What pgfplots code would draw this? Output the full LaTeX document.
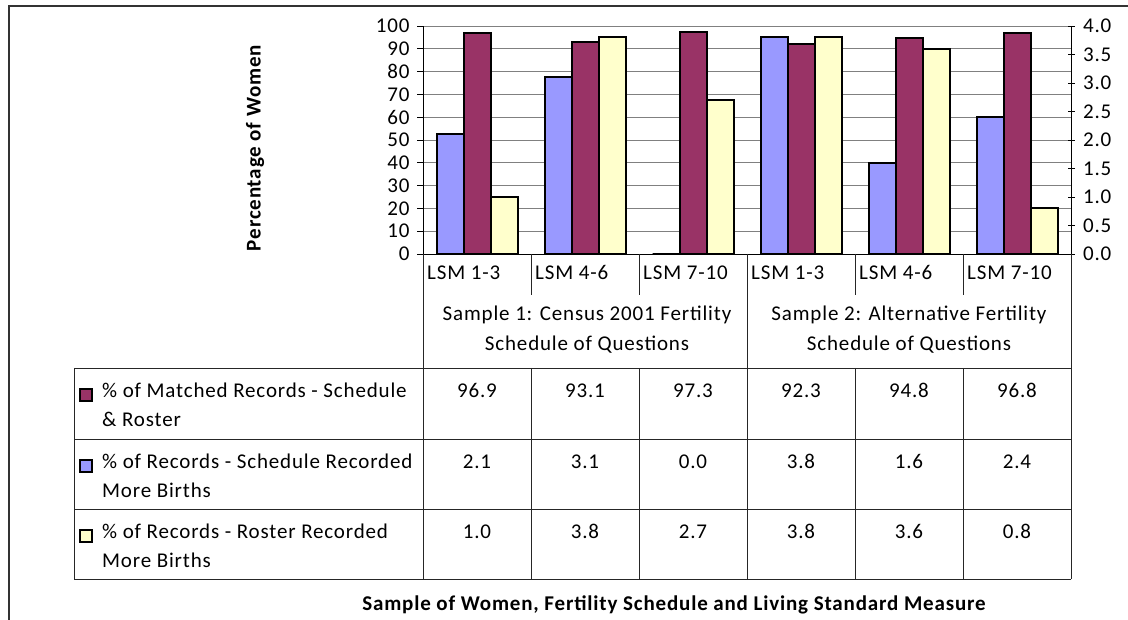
\documentclass[border=0pt]{standalone}
\usepackage{fontspec}
\setmainfont{Carlito}[LetterSpace=4]
\usepackage{pgfplots}
\usepackage{pgfplotstable}
\pgfplotsset{compat=1.18}

\definecolor{matched}{HTML}{993366}
\definecolor{sched}{HTML}{9999FF}
\definecolor{roster}{HTML}{FFFFCC}
\newcommand\fs{\fontsize{21}{25}\selectfont}

% x = category (LSM groups of both samples), values in percent
\pgfplotstableread{
x matched schedule roster
0 96.9 2.1 1.0
1 93.1 3.1 3.8
2 97.3 0.0 2.7
3 92.3 3.8 3.8
4 94.8 1.6 3.6
5 96.8 2.4 0.8
}\data

\pgfplotsset{
  common/.style={
    at={(423pt,366pt)}, anchor=south west,
    scale only axis, width=648pt, height=228pt,
    xmin=-0.5, xmax=5.5, xtick=\empty,
    axis line style={-, black, line width=0.9pt},
    tick style={black, line width=0.9pt},
    tick label style={font=\fs},
    /pgf/number format/assume math mode=true,
    ybar, bar width=27pt, clip=false,
  },
  outlined/.style={draw=black, line width=2pt},
}

\begin{document}
\begin{tikzpicture}[x=1pt, y=1pt, font=\fs]
\useasboundingbox (0,0) rectangle (1128,620);
% chart border, cut off on the right and at the bottom
\draw[black!80, line width=1.3pt] (9,-20) -- (9,614) -- (1140,614);

% primary axis: matched records
\begin{axis}[common,
  ymin=0, ymax=100, ytick={0,10,...,100},
  axis y line*=left, axis x line*=bottom,
  ymajorgrids, grid style={black!50, line width=0.8pt},
  tick align=outside, major tick length=6pt,
  yticklabel style={xshift=-4pt},
]
\addplot[outlined, fill=matched, bar shift=0pt]
  table[x=x, y=matched]{\data};
\end{axis}

% secondary axis: records with more births
\begin{axis}[common,
  ymin=0, ymax=4, ytick={0,0.5,...,4},
  axis y line*=right, axis x line=none,
  tick align=center, major tick length=7pt,
  yticklabel style={xshift=5pt, /pgf/number format/.cd, fixed, fixed zerofill, precision=1},
]
\addplot[outlined, fill=sched, bar shift=-27pt]
  table[x=x, y=schedule]{\data};
\addplot[outlined, fill=roster, bar shift=27pt]
  table[x=x, y=roster]{\data};
\end{axis}

% data table grid
\begin{scope}[line width=0.8pt, black!85]
  \foreach \xx in {423,747,1071} \draw (\xx,366) -- (\xx,41);
  \foreach \xx in {531,639,855,963} {
    \draw (\xx,366) -- (\xx,325);
    \draw (\xx,252) -- (\xx,41);
  }
  \draw (74,252) -- (74,41);
  \foreach \yy in {252,181,111,41} \draw (74,\yy) -- (1071,\yy);
\end{scope}

% category and group labels
\foreach \c [count=\i from 0] in {LSM 1-3,LSM 4-6,LSM 7-10,LSM 1-3,LSM 4-6,LSM 7-10}
  \node[anchor=mid west, inner sep=0pt] at (427+108*\i, 343) {\c};
\node[anchor=mid] at (587,302) {Sample 1: Census 2001 Fertility};
\node[anchor=mid] at (587,272) {Schedule of Questions};
\node[anchor=mid] at (909,302) {Sample 2: Alternative Fertility};
\node[anchor=mid] at (909,272) {Schedule of Questions};

% legend column
\draw[fill=matched, line width=1.2pt] (80,219) rectangle (92,231);
\node[anchor=mid west, inner sep=0pt] at (102,225) {\% of Matched Records - Schedule};
\node[anchor=mid west, inner sep=0pt] at (102,196) {\& Roster};
\draw[fill=sched, line width=1.2pt] (80,148) rectangle (92,160);
\node[anchor=mid west, inner sep=0pt] at (102,154) {\% of Records - Schedule Recorded};
\node[anchor=mid west, inner sep=0pt] at (102,125) {More Births};
\draw[fill=roster, line width=1.2pt] (80,78) rectangle (92,90);
\node[anchor=mid west, inner sep=0pt] at (102,84) {\% of Records - Roster Recorded};
\node[anchor=mid west, inner sep=0pt] at (102,55) {More Births};

% table values, taken from the same data
\foreach \i in {0,...,5} {
  \pgfplotstablegetelem{\i}{matched}\of\data
  \node[anchor=mid] at (477+108*\i, 225) {\pgfplotsretval};
  \pgfplotstablegetelem{\i}{schedule}\of\data
  \node[anchor=mid] at (477+108*\i, 154) {\pgfplotsretval};
  \pgfplotstablegetelem{\i}{roster}\of\data
  \node[anchor=mid] at (477+108*\i, 84) {\pgfplotsretval};
}

% axis title and category axis title
\node[rotate=90, anchor=center, font=\fs\bfseries] at (255,472) {Percentage of Women};
\node[anchor=mid, font=\fs\bfseries] at (674,12) {Sample of Women, Fertility Schedule and Living Standard Measure};
\end{tikzpicture}
\end{document}
